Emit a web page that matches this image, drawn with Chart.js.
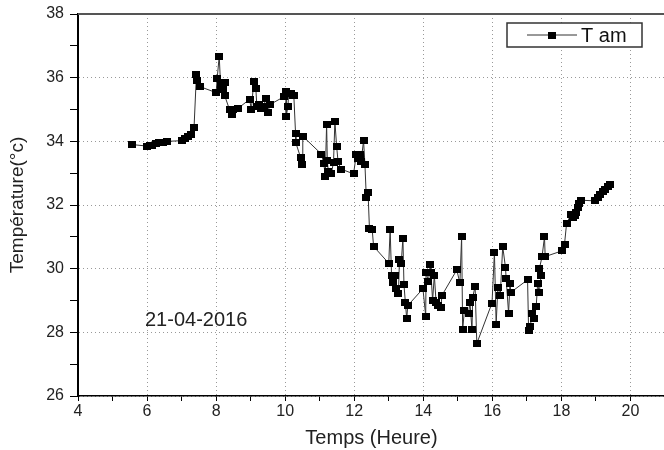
<!DOCTYPE html>
<html>
<head>
<meta charset="utf-8">
<script src="https://cdn.jsdelivr.net/npm/chart.js@4"></script>
<style>
    html, body { margin: 0; padding: 0; background: #fff; overflow: hidden; }
    #chart { display: block; }
</style>
</head>
<body>
<canvas id="chart" width="670" height="450"></canvas>
<script>
const SERIES_LABEL = "T am";
const DATE_NOTE = "21-04-2016";
const X_TITLE = "Temps (Heure)";
const Y_TITLE = "Température(°c)";

const TIMES = [
    5.56, 6.00, 6.08, 6.15, 6.25, 6.35, 6.45, 6.58, 7.01, 7.10,
    7.18, 7.26, 7.36, 7.43, 7.46, 7.53, 8.00, 8.03, 8.09, 8.13,
    8.20, 8.25, 8.25, 8.39, 8.45, 8.49, 8.64, 8.97, 9.02, 9.09,
    9.15, 9.18, 9.25, 9.31, 9.38, 9.44, 9.50, 9.55, 9.98, 10.03,
    10.03, 10.08, 10.10, 10.18, 10.22, 10.25, 10.30, 10.31, 10.45, 10.50,
    10.51, 11.05, 11.12, 11.16, 11.20, 11.22, 11.25, 11.34, 11.40, 11.44,
    11.49, 11.53, 11.61, 11.98, 12.06, 12.12, 12.17, 12.20, 12.27, 12.31,
    12.35, 12.40, 12.44, 12.52, 12.56, 13.00, 13.04, 13.08, 13.12, 13.17,
    13.22, 13.28, 13.31, 13.36, 13.41, 13.44, 13.48, 13.52, 13.55, 13.99,
    14.07, 14.08, 14.15, 14.20, 14.22, 14.27, 14.32, 14.37, 14.44, 14.51,
    14.54, 14.97, 15.06, 15.11, 15.14, 15.19, 15.31, 15.35, 15.41, 15.43,
    15.50, 15.55, 15.99, 16.06, 16.11, 16.16, 16.23, 16.30, 16.38, 16.40,
    16.47, 16.51, 16.54, 17.02, 17.05, 17.09, 17.16, 17.21, 17.27, 17.31,
    17.36, 17.41, 17.36, 17.44, 17.51, 17.53, 18.02, 18.09, 18.15, 18.28,
    18.33, 18.38, 18.42, 18.47, 18.52, 18.57, 18.98, 19.05, 19.12, 19.20,
    19.27, 19.34, 19.41,
];

const TEMPS = [
    33.90, 33.85, 33.86, 33.88, 33.92, 33.95, 33.97, 34.00, 34.02, 34.08,
    34.15, 34.22, 34.42, 36.10, 35.90, 35.72, 35.53, 35.96, 36.68, 35.75,
    35.62, 35.84, 35.43, 34.99, 34.85, 35.00, 35.04, 35.32, 34.99, 35.88,
    35.67, 35.10, 35.15, 35.04, 35.10, 35.35, 34.90, 35.15, 35.41, 35.56,
    34.78, 35.10, 35.50, 35.51, 35.45, 35.45, 34.26, 33.95, 33.48, 33.27,
    34.16, 33.60, 33.30, 32.91, 34.54, 33.40, 33.05, 33.00, 33.35, 34.63,
    33.84, 33.38, 33.13, 32.98, 33.58, 33.45, 33.58, 33.38, 34.02, 33.27,
    32.23, 32.40, 31.27, 31.24, 30.70, 30.17, 31.24, 29.80, 29.57, 29.78,
    29.37, 29.21, 30.30, 30.15, 30.96, 29.50, 28.95, 28.42, 28.84, 29.37,
    28.51, 29.88, 29.60, 30.13, 29.88, 29.00, 29.80, 28.95, 28.85, 28.79,
    29.16, 29.96, 29.55, 31.00, 28.08, 28.69, 28.58, 28.95, 28.08, 29.10,
    29.44, 27.65, 28.92, 30.51, 28.25, 29.42, 29.16, 30.70, 30.04, 29.68,
    28.60, 29.52, 29.26, 29.65, 28.06, 28.17, 28.58, 28.43, 28.81, 29.52,
    29.26, 29.78, 29.99, 30.38, 31.00, 30.38, 30.56, 30.77, 31.42, 31.71,
    31.60, 31.66, 31.75, 31.92, 32.05, 32.15, 32.13, 32.22, 32.33, 32.42,
    32.49, 32.57, 32.65,
];

const FONT = "'Liberation Sans', Arial, sans-serif";

function makeMarker(w, h) {
    const c = document.createElement("canvas");
    c.width = w;
    c.height = h;
    const g = c.getContext("2d");
    g.fillStyle = "#000";
    g.fillRect(0, 0, w, h);
    return c;
}

const marker = makeMarker(8, 7);

const isEven = (v) => Math.abs(Math.round(v) % 2) === 0;

// top border, legend box and the date note
const extras = {
    id: "extras",
    afterDraw(chart) {
        const { ctx, chartArea, scales } = chart;
        ctx.save();

        ctx.strokeStyle = "#555";
        ctx.lineWidth = 2;
        ctx.beginPath();
        ctx.moveTo(chartArea.left, chartArea.top);
        ctx.lineTo(chartArea.right, chartArea.top);
        ctx.lineTo(chartArea.right, chartArea.bottom);
        ctx.stroke();

        const bx = 507, by = 23, bw = 135, bh = 24;
        ctx.fillStyle = "#fff";
        ctx.fillRect(bx, by, bw, bh);
        ctx.strokeStyle = "#333";
        ctx.lineWidth = 1.5;
        ctx.strokeRect(bx, by, bw, bh);
        const ly = by + bh / 2;
        ctx.strokeStyle = "#333";
        ctx.lineWidth = 1;
        ctx.beginPath();
        ctx.moveTo(527, ly);
        ctx.lineTo(577, ly);
        ctx.stroke();
        ctx.drawImage(marker, 552 - marker.width / 2, ly - marker.height / 2);
        ctx.fillStyle = "#111";
        ctx.font = `20px ${FONT}`;
        ctx.textBaseline = "middle";
        ctx.textAlign = "left";
        ctx.fillText(chart.data.datasets[0].label, 581, ly + 1);

        ctx.fillStyle = "#222";
        ctx.fillText(DATE_NOTE, scales.x.getPixelForValue(5.94), scales.y.getPixelForValue(28.38));

        ctx.restore();
    },
};

const ctx = document.getElementById("chart").getContext("2d");

new Chart(ctx, {
    type: "line",
    data: {
        datasets: [{
            label: SERIES_LABEL,
            data: TIMES.map((t, i) => ({ x: t, y: TEMPS[i] })),
            borderColor: "#333",
            borderWidth: 1,
            tension: 0,
            pointStyle: marker,
            pointRadius: 3,
        }],
    },
    options: {
        responsive: false,
        animation: false,
        layout: { padding: { top: 3, right: 4, left: 0, bottom: 0 } },
        plugins: {
            legend: { display: false },
            tooltip: { enabled: false },
        },
        scales: {
            x: {
                type: "linear",
                min: 4,
                max: 21,
                afterFit: (s) => { s.height = 54; },
                ticks: {
                    stepSize: 1,
                    autoSkip: false,
                    maxRotation: 0,
                    padding: 1,
                    color: "#222",
                    font: { family: FONT, size: 16 },
                    callback: (v) => (isEven(v) && v < 21 ? v : ""),
                },
                grid: {
                    color: (c) => (isEven(c.tick.value) ? "#999" : "rgba(0,0,0,0)"),
                    tickColor: "#000",
                    tickLength: 5,
                    lineWidth: 1,
                },
                border: { color: "#000", width: 1.5, dash: [1, 3] },
                title: {
                    display: true,
                    text: X_TITLE,
                    color: "#222",
                    font: { family: FONT, size: 20 },
                    padding: { top: 2, bottom: 0 },
                },
            },
            y: {
                min: 26,
                max: 38,
                afterFit: (s) => { s.width = 78; },
                ticks: {
                    stepSize: 1,
                    autoSkip: false,
                    padding: 6,
                    color: "#222",
                    font: { family: FONT, size: 16, lineHeight: 1 },
                    callback: (v) => (isEven(v) ? v : ""),
                },
                grid: {
                    color: (c) => (isEven(c.tick.value) ? "#999" : "rgba(0,0,0,0)"),
                    tickColor: "#000",
                    tickLength: 8,
                    lineWidth: 1,
                },
                border: { color: "#000", width: 2, dash: [1, 3] },
                title: {
                    display: true,
                    text: Y_TITLE,
                    color: "#222",
                    font: { family: FONT, size: 19 },
                    padding: { top: 6, bottom: 4 },
                },
            },
        },
    },
    plugins: [extras],
});
</script>
</body>
</html>
